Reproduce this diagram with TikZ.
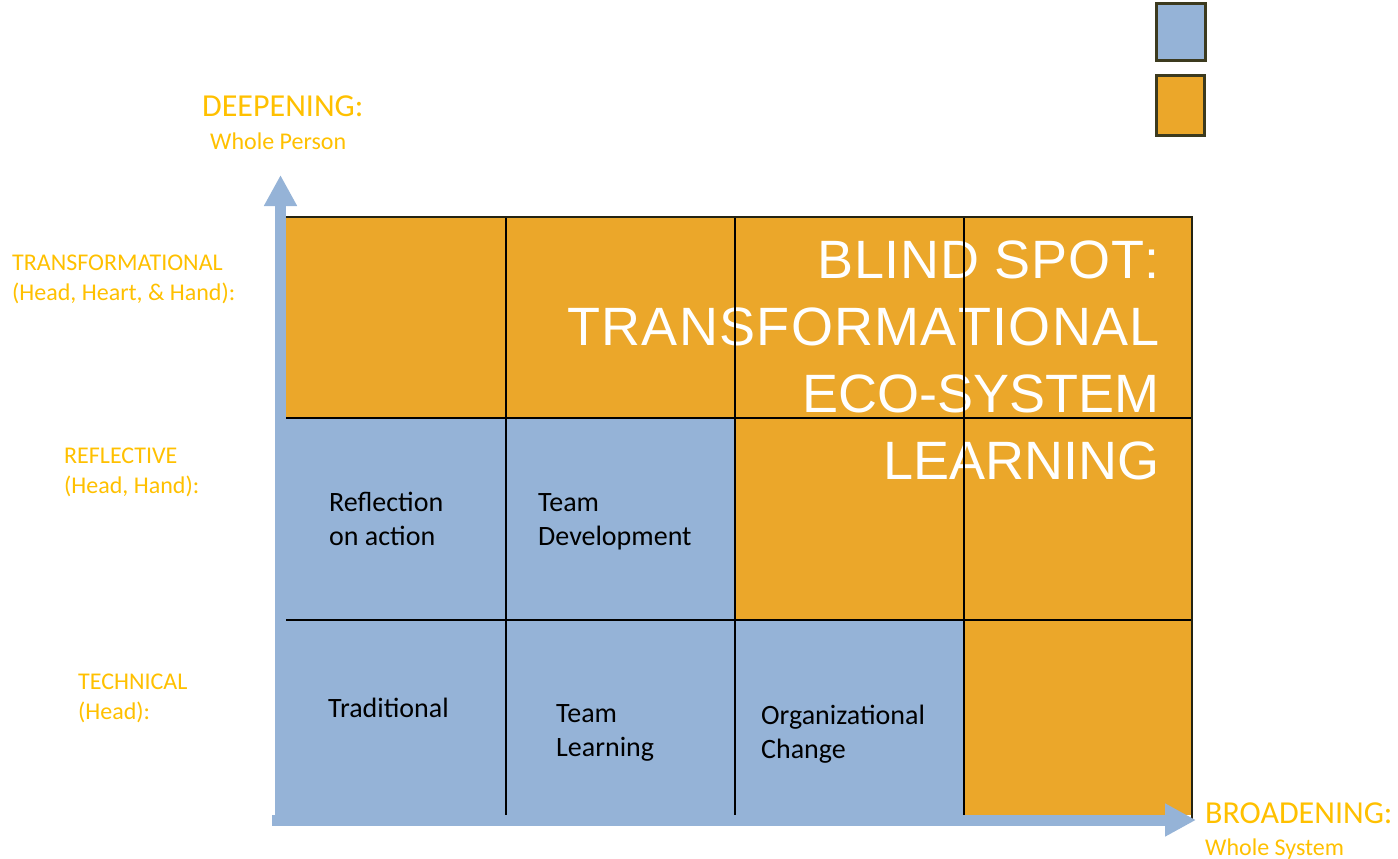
\documentclass[tikz,border=0pt]{standalone}
\usepackage{fontspec}
\setmainfont{Carlito}
\newfontfamily\blindfont[Kerning=Off]{Liberation Sans}
\usetikzlibrary{arrows.meta}
\definecolor{cellorange}{RGB}{235,167,42}
\definecolor{cellblue}{RGB}{149,179,215}
\definecolor{axisgold}{RGB}{255,192,0}
\definecolor{edgeolive}{RGB}{60,58,30}
\begin{document}
\begin{tikzpicture}[x=1pt,y=-1pt,
    rowlabel/.style={text=axisgold,anchor=base west,align=left,inner sep=0pt,font=\fontsize{24}{30}\selectfont},
    axistitle/.style={text=axisgold,anchor=base west,inner sep=0pt,font=\fontsize{32}{36}\selectfont},
    axissub/.style={text=axisgold,anchor=base west,inner sep=0pt,font=\fontsize{24}{28}\selectfont},
    celltext/.style={anchor=base west,align=left,inner sep=0pt,font=\fontsize{28}{34}\selectfont},
    axisarrow/.style={draw=cellblue,line width=11pt,-{Triangle[width=31pt,length=31pt]}},
    keybox/.style={draw=edgeolive,line width=3pt}]
    \useasboundingbox (0,0) rectangle (1398,859);
    % cells
    \fill[cellorange] (286,217) rectangle (1192,815);
    \fill[cellblue] (286,418) rectangle (735,815);
    \fill[cellblue] (735,620) rectangle (964,815);
    % blind spot (base = last line)
    \node[anchor=base east,align=right,inner sep=0pt,text=white,
        font=\blindfont\fontsize{54}{67}\selectfont] (blind) at (1160,479)
        {{\addfontfeature{LetterSpace=1.3}BLIND SPOT:}\\
         {\addfontfeature{LetterSpace=2.4}TRANSFORMATIONAL}\\ECO-SYSTEM\\LEARNING};
    % grid lines
    \foreach \x in {506,735,964} {
        \draw[line width=2pt] (\x,217) -- (\x,815);
    }
    \foreach \y in {418,620} {
        \draw[line width=2pt] (286,\y) -- (1192,\y);
    }
    \draw[line width=2.5pt,edgeolive!60!black] (286,217) -- (1192,217) -- (1192,820);
    % cell texts
    \node[celltext] (reflect) at (329,545) {Reflection\\on action};
    \node[celltext] (teamdev) at (538,545) {Team\\Development};
    \node[celltext] (tradit) at (328,717) {Traditional};
    \node[celltext] (teamlearn) at (556,756) {Team\\Learning};
    \node[celltext] (orgchange) at (761,758) {Organizational\\Change};
    % axes
    \coordinate (yfoot) at (280.5,826);
    \coordinate (ytip) at (280.5,175);
    \coordinate (xfoot) at (272,820);
    \coordinate (xtip) at (1196,820);
    \draw[axisarrow] (yfoot) -- (ytip);
    \draw[axisarrow] (xfoot) -- (xtip);
    % axis labels
    \node[axistitle] (deep) at (202,116) {DEEPENING:};
    \node[axissub] (deepsub) at (210,149) {Whole Person};
    \node[axistitle] (broad) at (1205,823) {BROADENING:};
    \node[axissub] (broadsub) at (1205,855) {Whole System};
    \node[rowlabel] (transf) at (12,300) {TRANSFORMATIONAL\\(Head, Heart, \& Hand):};
    \node[rowlabel] (reflec) at (64,493) {REFLECTIVE\\(Head, Hand):};
    \node[rowlabel] (techn) at (78,719) {TECHNICAL\\(Head):};
    % key
    \draw[keybox,fill=cellblue] (1156,4) rectangle (1205,61);
    \draw[keybox,fill=cellorange] (1156,76) rectangle (1204,135);
\end{tikzpicture}
\end{document}
